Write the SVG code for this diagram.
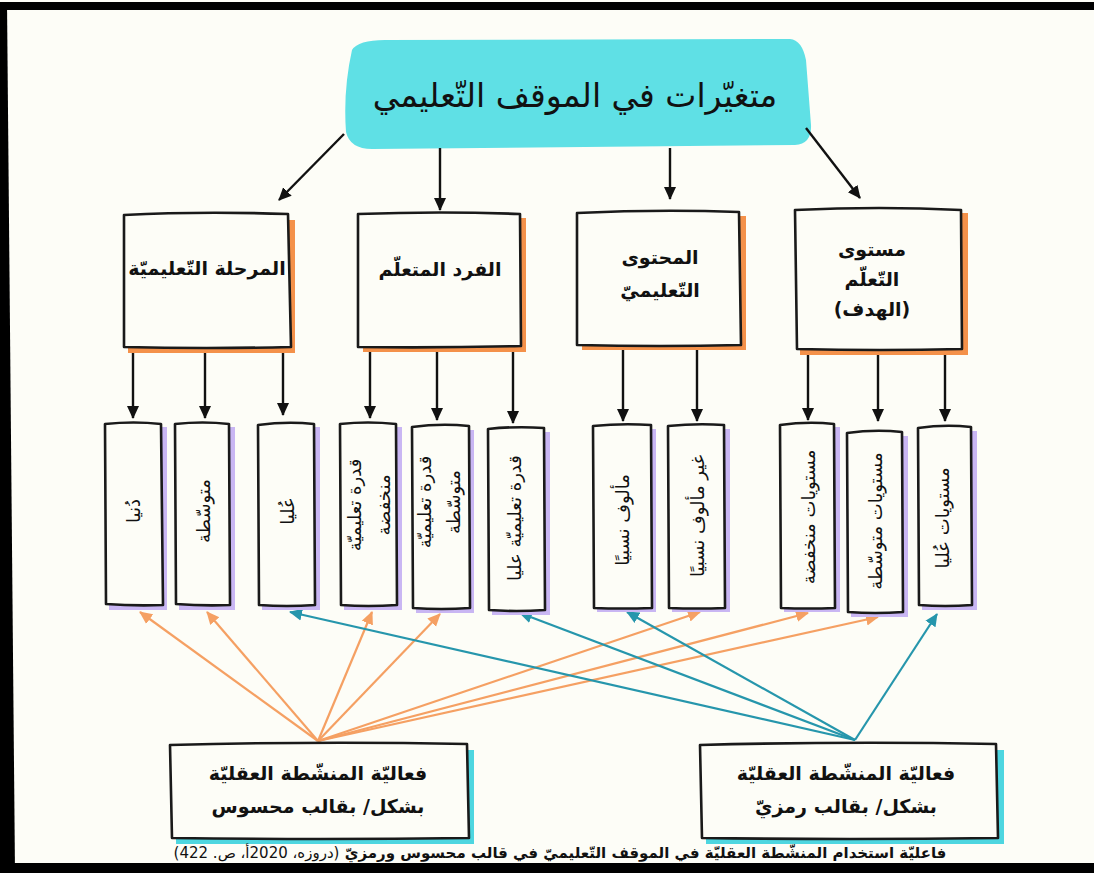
<svg xmlns="http://www.w3.org/2000/svg" width="1094" height="873" viewBox="0 0 1094 873">
<defs>
<style>
.box{fill:#FDFDF7;stroke:#1a1a1a;stroke-width:2.6;stroke-linejoin:round}
.osh{fill:#F4914A}
.psh{fill:#C9B6F3}
.csh{fill:#4ED6E0}
.t{font-family:"DejaVu Sans",sans-serif;fill:#111;direction:rtl}
.tb{font-family:"DejaVu Sans",sans-serif;fill:#111;font-weight:bold;font-size:19px;direction:rtl}
.tv{font-family:"DejaVu Sans",sans-serif;fill:#111;font-size:18px;direction:rtl}
.blk{stroke:#111;stroke-width:2.4;fill:none}
.org{stroke:#F5A063;stroke-width:2.2;fill:none}
.tea{stroke:#2696AC;stroke-width:2.2;fill:none}
</style>
<marker id="ab" markerUnits="userSpaceOnUse" markerWidth="14" markerHeight="14" refX="12" refY="7" orient="auto"><path d="M0,1 L13,7 L0,13 z" fill="#111"/></marker>
<marker id="ao" markerUnits="userSpaceOnUse" markerWidth="14" markerHeight="14" refX="12" refY="7" orient="auto"><path d="M0,1 L13,7 L0,13 z" fill="#F5A063"/></marker>
<marker id="at" markerUnits="userSpaceOnUse" markerWidth="14" markerHeight="14" refX="12" refY="7" orient="auto"><path d="M0,1 L13,7 L0,13 z" fill="#2696AC"/></marker>
</defs>
<rect x="0" y="0" width="1094" height="873" fill="#FDFDF7"/>
<rect x="2" y="2" width="1092" height="8" fill="#000"/>
<polygon points="0,2 7,2 15,873 0,873" fill="#000"/>
<rect x="0" y="863" width="1094" height="10" fill="#000"/>

<g id="title">
<path d="M352,50 Q358,40 385,40 L790,39 Q802,40 806,60 L811,125 Q812,144 795,145 L372,149 Q350,149 346,132 Q343,90 352,50 Z" fill="#5FE0E5"/>
<text x="575" y="107" class="t" font-size="33" text-anchor="middle" fill="#1d3940">متغيّرات في الموقف التّعليمي</text>
</g>

<g id="connectors">
<path class="blk" marker-end="url(#ab)" d="M344,134 L279,200"/>
<path class="blk" marker-end="url(#ab)" d="M440,148 L440,210"/>
<path class="blk" marker-end="url(#ab)" d="M670,148 L670,199"/>
<path class="blk" marker-end="url(#ab)" d="M806,128 L860,198"/>
<path class="blk" marker-end="url(#ab)" d="M133,348 L133,418"/>
<path class="blk" marker-end="url(#ab)" d="M205,348 L205,418"/>
<path class="blk" marker-end="url(#ab)" d="M283,346 L283,415"/>
<path class="blk" marker-end="url(#ab)" d="M370,346 L370,418"/>
<path class="blk" marker-end="url(#ab)" d="M437,346 L437,420"/>
<path class="blk" marker-end="url(#ab)" d="M513,346 L513,423"/>
<path class="blk" marker-end="url(#ab)" d="M623,345 L623,421"/>
<path class="blk" marker-end="url(#ab)" d="M697,345 L697,421"/>
<path class="blk" marker-end="url(#ab)" d="M808,350 L808,420"/>
<path class="blk" marker-end="url(#ab)" d="M878,352 L878,421"/>
<path class="blk" marker-end="url(#ab)" d="M945,352 L945,421"/>
<path class="org" marker-end="url(#ao)" d="M318,741 L140,612"/>
<path class="org" marker-end="url(#ao)" d="M318,741 L207,612"/>
<path class="org" marker-end="url(#ao)" d="M318,741 L372,612"/>
<path class="org" marker-end="url(#ao)" d="M318,741 L440,614"/>
<path class="org" marker-end="url(#ao)" d="M318,741 L700,612"/>
<path class="org" marker-end="url(#ao)" d="M318,741 L808,613"/>
<path class="org" marker-end="url(#ao)" d="M318,741 L878,617"/>
<path class="tea" marker-end="url(#at)" d="M855,740 L290,612"/>
<path class="tea" marker-end="url(#at)" d="M855,740 L520,613"/>
<path class="tea" marker-end="url(#at)" d="M855,740 L627,612"/>
<path class="tea" marker-end="url(#at)" d="M855,740 L937,614"/>
</g>

<g id="n-stage">
<rect class="osh" x="128" y="220" width="167" height="133"/>
<path class="box" d="M124,215 Q200,211 288,214 L291,347 Q205,349 124,347 Z"/>
<text x="207" y="275" class="tb" text-anchor="middle">المرحلة التّعليميّة</text>
</g>
<g id="n-learner">
<rect class="osh" x="363" y="218" width="163" height="134"/>
<path class="box" d="M358,214 Q440,211 520,214 L521,346 Q440,348 358,347 Z"/>
<text x="440" y="276" class="tb" text-anchor="middle">الفرد المتعلّم</text>
</g>
<g id="n-content">
<rect class="osh" x="582" y="216" width="164" height="134"/>
<path class="box" d="M577,213 Q660,209 739,212 L741,345 Q660,347 577,345 Z"/>
<text x="660" y="264" class="tb" text-anchor="middle">المحتوى</text>
<text x="660" y="297" class="tb" text-anchor="middle">التّعليميّ</text>
</g>
<g id="n-level">
<rect class="osh" x="800" y="213" width="168" height="142"/>
<path class="box" d="M795,210 Q880,206 961,210 L962,349 Q880,351 797,349 Z"/>
<text x="872" y="256" class="tb" text-anchor="middle">مستوى</text>
<text x="872" y="286" class="tb" text-anchor="middle">التّعلّم</text>
<text x="872" y="316" class="tb" text-anchor="middle">(الهدف)</text>
</g>

<g id="v1">
<rect class="psh" x="109" y="427" width="58" height="183"/>
<path class="box" d="M105,424 Q134,421 161,424 L163,605 Q134,606 106,604 Z"/>
<text class="tv" text-anchor="middle" dominant-baseline="central" transform="translate(133,511) rotate(-90)">دُنيا</text>
</g>
<g id="v2">
<rect class="psh" x="179" y="427" width="56" height="183"/>
<path class="box" d="M175,424 Q203,421 229,424 L230,605 Q203,606 176,604 Z"/>
<text class="tv" text-anchor="middle" dominant-baseline="central" transform="translate(203,511) rotate(-90)">متوسّطة</text>
</g>
<g id="v3">
<rect class="psh" x="262" y="427" width="58" height="183"/>
<path class="box" d="M258,425 Q287,421 314,424 L315,605 Q287,607 259,605 Z"/>
<text class="tv" text-anchor="middle" dominant-baseline="central" transform="translate(287,511) rotate(-90)">عُليا</text>
</g>
<g id="v4">
<rect class="psh" x="344" y="427" width="58" height="183"/>
<path class="box" d="M340,424 Q368,421 396,424 L397,605 Q368,607 341,605 Z"/>
<text class="tv" text-anchor="middle" dominant-baseline="central" transform="translate(368,505) rotate(-90)"><tspan x="0" dy="-14">قدرة تعليميّة</tspan><tspan x="0" dy="29">منخفضة</tspan></text>
</g>
<g id="v5">
<rect class="psh" x="416" y="430" width="58" height="183"/>
<path class="box" d="M412,427 Q441,423 469,426 L470,608 Q441,610 413,608 Z"/>
<text class="tv" text-anchor="middle" dominant-baseline="central" transform="translate(439,502) rotate(-90)"><tspan x="0" dy="-15">قدرة تعليميّة</tspan><tspan x="0" dy="29">متوسّطة</tspan></text>
</g>
<g id="v6">
<rect class="psh" x="492" y="432" width="58" height="183"/>
<path class="box" d="M488,429 Q516,426 544,428 L545,610 Q516,612 489,610 Z"/>
<text class="tv" text-anchor="middle" dominant-baseline="central" transform="translate(514,518) rotate(-90)">قدرة تعليميّة عليا</text>
</g>
<g id="v7">
<rect class="psh" x="597" y="429" width="59" height="183"/>
<path class="box" d="M593,426 Q622,423 651,425 L652,608 Q622,609 594,608 Z"/>
<text class="tv" text-anchor="middle" dominant-baseline="central" transform="translate(622,520) rotate(-90)">مألوف نسبيًا</text>
</g>
<g id="v8">
<rect class="psh" x="672" y="429" width="58" height="183"/>
<path class="box" d="M668,426 Q697,423 724,425 L725,608 Q697,609 669,608 Z"/>
<text class="tv" text-anchor="middle" dominant-baseline="central" transform="translate(697,516) rotate(-90)">غير مألوف نسبيًا</text>
</g>
<g id="v9">
<rect class="psh" x="784" y="427" width="56" height="185"/>
<path class="box" d="M780,425 Q808,421 834,424 L835,608 Q808,609 781,608 Z"/>
<text class="tv" text-anchor="middle" dominant-baseline="central" transform="translate(808,517) rotate(-90)">مستويات منخفضة</text>
</g>
<g id="v10">
<rect class="psh" x="851" y="436" width="57" height="181"/>
<path class="box" d="M847,433 Q875,429 902,432 L903,612 Q875,614 848,612 Z"/>
<text class="tv" text-anchor="middle" dominant-baseline="central" transform="translate(875,521) rotate(-90)">مستويات متوسّطة</text>
</g>
<g id="v11">
<rect class="psh" x="922" y="431" width="55" height="179"/>
<path class="box" d="M918,428 Q945,424 971,427 L972,605 Q945,607 919,605 Z"/>
<text class="tv" text-anchor="middle" dominant-baseline="central" transform="translate(942,518) rotate(-90)">مستويات  عُليا</text>
</g>

<g id="n-concrete">
<rect class="csh" x="176" y="750" width="298" height="94"/>
<path class="box" d="M170,745 Q320,741 467,744 L469,838 Q320,840 172,838 Z"/>
<text x="318" y="780" class="tb" text-anchor="middle">فعاليّة  المنشّطة العقليّة</text>
<text x="318" y="813" class="tb" text-anchor="middle">بشكل/ بقالب محسوس</text>
</g>
<g id="n-symbolic">
<rect class="csh" x="706" y="750" width="298" height="94"/>
<path class="box" d="M700,745 Q850,741 996,744 L998,838 Q850,840 702,838 Z"/>
<text x="846" y="780" class="tb" text-anchor="middle">فعاليّة  المنشّطة  العقليّة</text>
<text x="846" y="813" class="tb" text-anchor="middle">بشكل/ بقالب رمزيّ</text>
</g>

<text x="560" y="858" class="t" font-size="15" font-weight="bold" text-anchor="middle">فاعليّة استخدام المنشّطة العقليّة في الموقف التّعليميّ في قالب محسوس ورمزيّ <tspan font-weight="normal">(دروزه، 2020أ، ص. 422)</tspan></text>
</svg>
